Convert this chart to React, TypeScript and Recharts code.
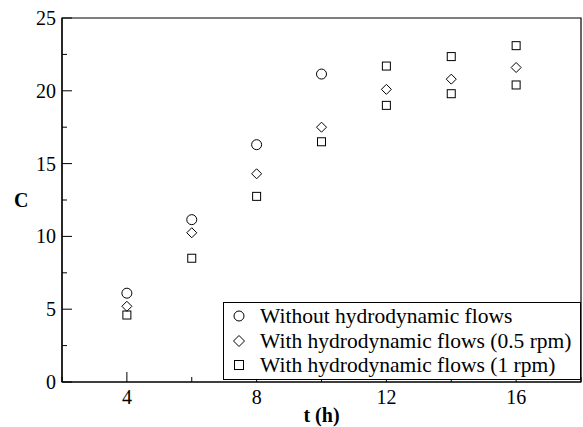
import { ScatterChart, Scatter, XAxis, YAxis, ReferenceArea, Legend, Label } from "recharts";

// t (h) and C for each run
const timeNoFlow = [4, 6, 8, 10];
const cNoFlow = [6.1, 11.15, 16.3, 21.15];

const timeHalfRpm = [4, 6, 8, 10, 12, 14, 16];
const cHalfRpm = [5.2, 10.25, 14.3, 17.5, 20.1, 20.8, 21.6];

const timeOneRpm = [4, 6, 8, 10, 12, 12, 14, 14, 16, 16];
const cOneRpm = [4.6, 8.5, 12.75, 16.5, 21.7, 19.0, 22.35, 19.8, 23.1, 20.4];

const xTicks = [2, 4, 6, 8, 10, 12, 14, 16, 18];
const xLabelTicks = [4, 8, 12, 16];
const yTicks = [0, 2.5, 5, 7.5, 10, 12.5, 15, 17.5, 20, 22.5, 25];
const yLabelTicks = [0, 5, 10, 15, 20, 25];

const seriesNames = [
  "Without hydrodynamic flows",
  "With hydrodynamic flows (0.5 rpm)",
  "With hydrodynamic flows (1 rpm)",
];

const FONT = "'Liberation Serif', 'Times New Roman', serif";

const toPoints = (xs: number[], ys: number[]) => xs.map((t, i) => ({ t, c: ys[i] }));

function CircleMark({ cx, cy, r = 5 }: any) {
  return <circle cx={cx} cy={cy} r={r} fill="none" stroke="#000" strokeWidth={1} />;
}

function DiamondMark({ cx, cy, r = 5 }: any) {
  return (
    <polygon
      points={`${cx},${cy - r} ${cx + r},${cy} ${cx},${cy + r} ${cx - r},${cy}`}
      fill="none"
      stroke="#000"
      strokeWidth={1}
    />
  );
}

function SquareMark({ cx, cy, r = 4 }: any) {
  return <rect x={cx - r} y={cy - r} width={2 * r} height={2 * r} fill="none" stroke="#000" strokeWidth={1} />;
}

function XTick({ x, y, payload }: any) {
  const major = xLabelTicks.includes(payload.value);
  return (
    <g>
      <line x1={x} x2={x} y1={y} y2={y - (major ? 10 : 5)} stroke="#000" />
      {major && (
        <text x={x} y={y + 22} textAnchor="middle" fontSize={20} fontFamily={FONT} fill="#000">
          {payload.value}
        </text>
      )}
    </g>
  );
}

function YTick({ x, y, payload }: any) {
  const major = yLabelTicks.includes(payload.value);
  return (
    <g>
      <line x1={x} x2={x + (major ? 10 : 5)} y1={y} y2={y} stroke="#000" />
      {major && (
        <text x={x - 6} y={y + 7} textAnchor="end" fontSize={20} fontFamily={FONT} fill="#000">
          {payload.value}
        </text>
      )}
    </g>
  );
}

function LegendBox() {
  const marks = [
    <CircleMark cx={8} cy={8} r={5} />,
    <DiamondMark cx={8} cy={8} r={5.5} />,
    <SquareMark cx={8} cy={8} r={4.5} />,
  ];
  return (
    <div
      style={{
        border: "1px solid #000",
        background: "#fff",
        height: 78,
        paddingTop: 1,
        boxSizing: "border-box",
        fontFamily: FONT,
        fontSize: 21.5,
        color: "#000",
      }}
    >
      {seriesNames.map((name, i) => (
        <div key={name} style={{ display: "flex", alignItems: "center", height: 24.5, lineHeight: "24px" }}>
          <svg width={16} height={16} style={{ marginLeft: 7 }}>
            {marks[i]}
          </svg>
          <span style={{ marginLeft: 13, whiteSpace: "nowrap" }}>{name}</span>
        </div>
      ))}
    </div>
  );
}

export default function App() {
  return (
    <div style={{ position: "absolute", left: 0, top: 0, background: "#fff" }}>
      <ScatterChart width={583} height={427} margin={{ top: 18, right: 2, bottom: 0, left: 0 }}>
        <XAxis
          type="number"
          dataKey="t"
          domain={[2, 18]}
          ticks={xTicks}
          interval={0}
          height={45}
          tickSize={0}
          tickMargin={0}
          tickLine={false}
          axisLine={{ stroke: "#000", strokeWidth: 1.2 }}
          tick={<XTick />}
        >
          <Label
            value="t (h)"
            position="insideBottom"
            offset={5}
            style={{ fontFamily: FONT, fontSize: 20, fontWeight: "bold", fill: "#000" }}
          />
        </XAxis>
        <YAxis
          type="number"
          dataKey="c"
          domain={[0, 25]}
          ticks={yTicks}
          interval={0}
          width={62}
          tickSize={0}
          tickMargin={0}
          tickLine={false}
          axisLine={{ stroke: "#000", strokeWidth: 1.2 }}
          tick={<YTick />}
        >
          <Label
            value="C"
            position="insideLeft"
            offset={14}
            style={{ fontFamily: FONT, fontSize: 20, fontWeight: "bold", fill: "#000" }}
          />
        </YAxis>
        <ReferenceArea x1={2} x2={18} y1={0} y2={25} fill="none" stroke="#000" strokeWidth={1.2} />
        <Scatter name={seriesNames[0]} data={toPoints(timeNoFlow, cNoFlow)} shape={<CircleMark />} isAnimationActive={false} />
        <Scatter name={seriesNames[1]} data={toPoints(timeHalfRpm, cHalfRpm)} shape={<DiamondMark />} isAnimationActive={false} />
        <Scatter name={seriesNames[2]} data={toPoints(timeOneRpm, cOneRpm)} shape={<SquareMark />} isAnimationActive={false} />
        <Legend
          layout="horizontal"
          verticalAlign="middle"
          align="center"
          content={<LegendBox />}
          wrapperStyle={{ left: 223, top: 302, width: 358, height: 78 }}
        />
      </ScatterChart>
    </div>
  );
}
